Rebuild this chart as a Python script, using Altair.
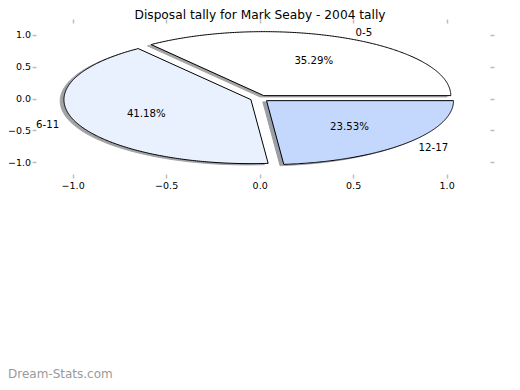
import altair as alt
import pandas as pd
import numpy as np

# ---- data ----
labels = ["0-5", "6-11", "12-17"]
values = [6, 7, 4]                       # 35.29 %, 41.18 %, 23.53 %
colors = ["#ffffff", "#eaf1fe", "#c4d8fe"]
title_text = "Disposal tally for Mark Seaby - 2004 tally"
x_ticks = [-1.0, -0.5, 0.0, 0.5, 1.0]
y_ticks = [-1.0, -0.5, 0.0, 0.5, 1.0]
watermark = "Dream-Stats.com"

# ---- styles ----
EXPLODE = 0.05
SHADOW_DX, SHADOW_DY = -0.02, -0.02
LABEL_DIST = 1.1
PCT_DIST = 0.6
FONT = "DejaVu Sans"
W, H = 454, 151


def darker(hex_color, f=0.3):
    h = hex_color.lstrip("#")
    r, g, b = (int(h[i:i + 2], 16) for i in (0, 2, 4))
    return "#%02x%02x%02x" % (int(r * f), int(g * f), int(b * f))


total = float(sum(values))
wedge_frames = []
text_rows = []
start = 0.0
for lab, v, col in zip(labels, values, colors):
    frac = v / total
    a0 = start * 2 * np.pi
    a1 = (start + frac) * 2 * np.pi
    mid = 0.5 * (a0 + a1)
    cx, cy = EXPLODE * np.cos(mid), EXPLODE * np.sin(mid)
    th = np.linspace(a0, a1, 241)
    px = np.concatenate([[cx], cx + np.cos(th), [cx]])
    py = np.concatenate([[cy], cy + np.sin(th), [cy]])
    wedge_frames.append(dict(label=lab, color=col,
                             df=pd.DataFrame({"x": px, "y": py, "idx": np.arange(len(px))}),
                             sdf=pd.DataFrame({"x": px + SHADOW_DX, "y": py + SHADOW_DY,
                                               "idx": np.arange(len(px))})))
    lx = cx + LABEL_DIST * np.cos(mid)
    ly = cy + LABEL_DIST * np.sin(mid)
    text_rows.append(dict(x=lx, y=ly, text=lab, kind="label",
                          side="left" if lx > 0 else "right"))
    text_rows.append(dict(x=cx + PCT_DIST * np.cos(mid), y=cy + PCT_DIST * np.sin(mid),
                          text="%.2f%%" % (100 * frac), kind="pct", side="center"))
    start += frac

texts = pd.DataFrame(text_rows)

xscale = alt.Scale(domain=[-1.196, 1.232], nice=False, zero=False)
yscale = alt.Scale(domain=[-1.18, 1.18], nice=False, zero=False)

axis_common = dict(values=x_ticks, format=".1f", title=None, domain=False, grid=False,
                   tickColor="#bdbdbd", tickSize=4, tickWidth=1.5,
                   labelFont=FONT, labelFontSize=9.5, labelColor="black")

x_bottom = alt.Axis(orient="bottom", labelPadding=2.5, **axis_common)
x_top = alt.Axis(orient="top", labels=False, **axis_common)
y_common = dict(axis_common)
y_common["values"] = y_ticks
y_left = alt.Axis(orient="left", labelPadding=1.5, **y_common)
y_right = alt.Axis(orient="right", labels=False, **y_common)

layers = []
# shadows first (below all wedges)
for k, w in enumerate(wedge_frames):
    sc = darker(w["color"])
    if k == 0:
        xa, ya = x_bottom, y_left
    elif k == 1:
        xa, ya = x_top, y_right
    else:
        xa, ya = None, None
    layers.append(
        alt.Chart(w["sdf"]).mark_line(fill=sc, stroke=sc, strokeWidth=1, opacity=0.5,
                                      strokeJoin="miter")
        .encode(x=alt.X("x:Q", scale=xscale, axis=xa),
                y=alt.Y("y:Q", scale=yscale, axis=ya),
                order=alt.Order("idx:Q"))
    )
for w in wedge_frames:
    layers.append(
        alt.Chart(w["df"]).mark_line(fill=w["color"], stroke="black", strokeWidth=1,
                                     strokeJoin="miter")
        .encode(x=alt.X("x:Q", scale=xscale, axis=None),
                y=alt.Y("y:Q", scale=yscale, axis=None),
                order=alt.Order("idx:Q"))
    )

for side in ["left", "right", "center"]:
    layers.append(
        alt.Chart(texts).transform_filter(alt.datum.side == side)
        .mark_text(align=side, baseline="middle", font=FONT, fontSize=10.2, color="black")
        .encode(x=alt.X("x:Q", scale=xscale, axis=None),
                y=alt.Y("y:Q", scale=yscale, axis=None),
                text="text:N")
    )

# chart title (as text placed above the plot)
ttl = pd.DataFrame({"text": [title_text]})
layers.append(
    alt.Chart(ttl).mark_text(align="center", baseline="alphabetic", font=FONT, fontSize=12.2,
                             color="black")
    .encode(x=alt.value(224), y=alt.value(-4.5), text="text:N")
)

wm = pd.DataFrame({"text": [watermark]})
layers.append(
    alt.Chart(wm).mark_text(align="left", baseline="alphabetic", font=FONT, fontSize=12,
                            color="#9a9a9a")
    .encode(x=alt.value(-28), y=alt.value(355), text="text:N")
)

chart = (
    alt.layer(*layers)
    .resolve_axis(x="independent", y="independent")
    .properties(
        width=W, height=H,
        background="white",
        autosize=alt.AutoSizeParams(type="none"),
        padding={"left": 28, "top": 15, "right": 14, "bottom": 208},
    )
    .configure_view(stroke="transparent", strokeWidth=0)
    .configure_axis(domain=False, grid=False)
)

chart.save("out.html", embed_options={"renderer": "svg", "actions": False})
